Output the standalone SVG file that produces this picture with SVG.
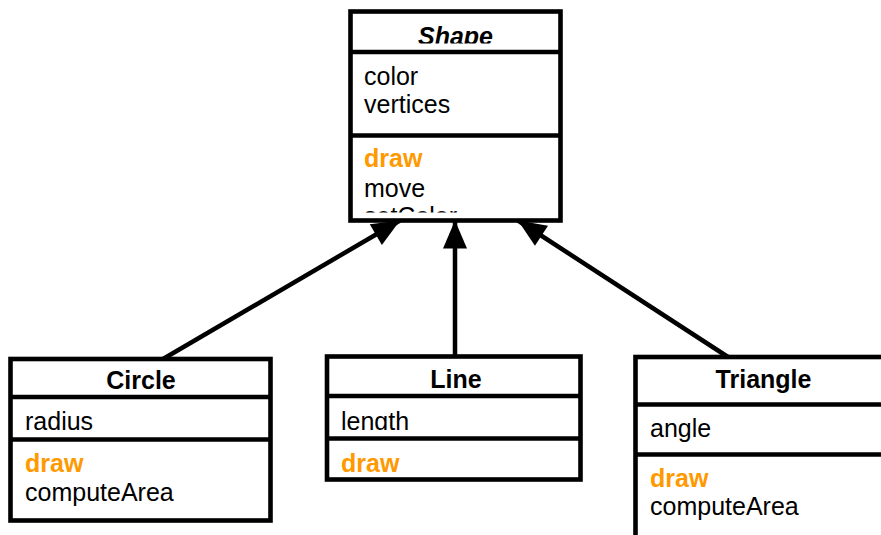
<svg xmlns="http://www.w3.org/2000/svg" width="881" height="535" viewBox="0 0 881 535">
<style>
.box{fill:#fff;stroke:#000;stroke-width:4.6}
.sep{stroke:#000;stroke-width:4.6}
.t{font-family:"Liberation Sans",Arial,sans-serif;font-size:25px;fill:#000}
.title{font-weight:bold;text-anchor:middle}
.abs{font-style:italic}
.m{fill:#FF9900;font-weight:bold}
.conn{stroke:#000;stroke-width:4.5;fill:none;marker-end:url(#tri)}
</style>
<defs>
<marker id="tri" markerUnits="userSpaceOnUse" viewBox="-28 -12 28 24" markerWidth="28" markerHeight="24" refX="0" refY="0" orient="auto" overflow="visible">
<path d="M0,0 L-28,-12 L-28,12 Z" fill="#000"/>
</marker>
<clipPath id="cShapeH"><rect x="352" y="14" width="207" height="29.5"/></clipPath>
<clipPath id="cShapeM"><rect x="352" y="138" width="207" height="74.5"/></clipPath>
<clipPath id="cLineA"><rect x="329" y="398" width="250" height="32"/></clipPath>
</defs>
<g id="connectors">
<line class="conn" x1="163" y1="359" x2="400" y2="220.5"/>
<line class="conn" x1="455" y1="356.5" x2="455" y2="220.5"/>
<line class="conn" x1="728" y1="357" x2="518" y2="220.5"/>
</g>
<g id="Shape">
<rect class="box" x="350.5" y="11.5" width="210" height="209"/>
<line class="sep" x1="350.5" y1="52" x2="560.5" y2="52"/>
<line class="sep" x1="350.5" y1="135.5" x2="560.5" y2="135.5"/>
<text class="t title abs" x="455.5" y="44.5" clip-path="url(#cShapeH)">Shape</text>
<text class="t" x="364" y="85">color</text>
<text class="t" x="364" y="113">vertices</text>
<g clip-path="url(#cShapeM)">
<text class="t m" x="364" y="167">draw</text>
<text class="t" x="364" y="196.5">move</text>
<text class="t" x="364" y="224.5">setColor</text>
</g>
</g>
<g id="Circle">
<rect class="box" x="10.5" y="359" width="260" height="161.5"/>
<line class="sep" x1="10.5" y1="397" x2="270.5" y2="397"/>
<line class="sep" x1="10.5" y1="439.5" x2="270.5" y2="439.5"/>
<text class="t title" x="141" y="389">Circle</text>
<text class="t" x="25" y="430">radius</text>
<text class="t m" x="25" y="472">draw</text>
<text class="t" x="25" y="501">computeArea</text>
</g>
<g id="Line">
<rect class="box" x="327" y="356.5" width="253.5" height="123"/>
<line class="sep" x1="327" y1="396" x2="580.5" y2="396"/>
<line class="sep" x1="327" y1="438.5" x2="580.5" y2="438.5"/>
<text class="t title" x="456" y="388">Line</text>
<text class="t" x="341" y="430" clip-path="url(#cLineA)">length</text>
<text class="t m" x="341" y="472">draw</text>
</g>
<g id="Triangle">
<rect class="box" x="635.5" y="357" width="300" height="250"/>
<line class="sep" x1="635.5" y1="404.5" x2="935.5" y2="404.5"/>
<line class="sep" x1="635.5" y1="454.5" x2="935.5" y2="454.5"/>
<text class="t title" x="763.5" y="388">Triangle</text>
<text class="t" x="650" y="437">angle</text>
<text class="t m" x="650" y="487">draw</text>
<text class="t" x="650" y="515">computeArea</text>
</g>
</svg>
